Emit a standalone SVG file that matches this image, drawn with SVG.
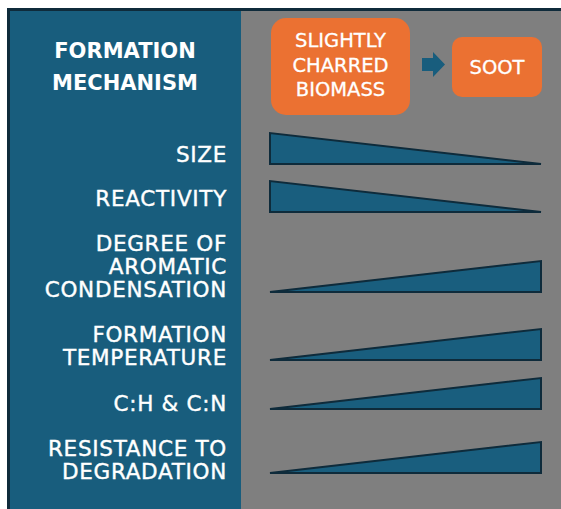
<svg xmlns="http://www.w3.org/2000/svg" width="561" height="509" viewBox="0 0 561 509">
<style>
.lbl{font-family:"DejaVu Sans",sans-serif;font-size:21.5px;letter-spacing:0.7px;fill:#ffffff;stroke:#ffffff;stroke-width:0.4;text-anchor:end}
.hdr{font-family:"DejaVu Sans",sans-serif;font-size:21px;font-weight:bold;fill:#ffffff;text-anchor:middle}
.box{fill:#eb7132}
.btx{font-family:"DejaVu Sans",sans-serif;font-size:19.5px;fill:#ffffff;stroke:#ffffff;stroke-width:0.3;text-anchor:middle}
.tri{fill:#195e7e;stroke:#0e2b3b;stroke-width:2;stroke-linejoin:miter}
</style>
<rect x="0" y="0" width="561" height="509" fill="#ffffff"/>
<rect x="7" y="8" width="554" height="501" fill="#0f2b3b"/>
<rect x="10" y="11" width="231" height="498" fill="#185d7d"/>
<rect x="241" y="11" width="320" height="498" fill="#7f7f7f"/>
<g id="header">
<text class="hdr" x="125" y="58">FORMATION</text>
<text class="hdr" x="125" y="90">MECHANISM</text>
</g>
<g id="node-biomass">
<rect class="box" x="271" y="18" width="139" height="97" rx="15"/>
<text class="btx" x="340.5" y="47">SLIGHTLY</text>
<text class="btx" x="340.5" y="72">CHARRED</text>
<text class="btx" x="340.5" y="96">BIOMASS</text>
</g>
<g id="node-soot">
<rect class="box" x="452" y="37" width="90" height="60" rx="10"/>
<text class="btx" x="497" y="74">SOOT</text>
</g>
<g id="connectors">
<polygon points="422,58 433,58 433,52 445,64.5 433,77 433,71 422,71" fill="#185d7d"/>
</g>
<g id="row-size">
<text class="lbl" x="227" y="162">SIZE</text>
<polygon class="tri" points="270,133 270,164 541,164"/>
</g>
<g id="row-reactivity">
<text class="lbl" x="227" y="206">REACTIVITY</text>
<polygon class="tri" points="270,181 270,212 541,212"/>
</g>
<g id="row-aromatic">
<text class="lbl" x="227" y="251">DEGREE OF</text>
<text class="lbl" x="227" y="274">AROMATIC</text>
<text class="lbl" x="227" y="297">CONDENSATION</text>
<polygon class="tri" points="270,292 541,261 541,292"/>
</g>
<g id="row-temperature">
<text class="lbl" x="227" y="342">FORMATION</text>
<text class="lbl" x="227" y="365">TEMPERATURE</text>
<polygon class="tri" points="270,360 541,329 541,360"/>
</g>
<g id="row-ratio">
<text class="lbl" x="227" y="411">C:H &amp; C:N</text>
<polygon class="tri" points="270,409 541,378 541,409"/>
</g>
<g id="row-resistance">
<text class="lbl" x="227" y="456">RESISTANCE TO</text>
<text class="lbl" x="227" y="479">DEGRADATION</text>
<polygon class="tri" points="270,473 541,442 541,473"/>
</g>
</svg>
